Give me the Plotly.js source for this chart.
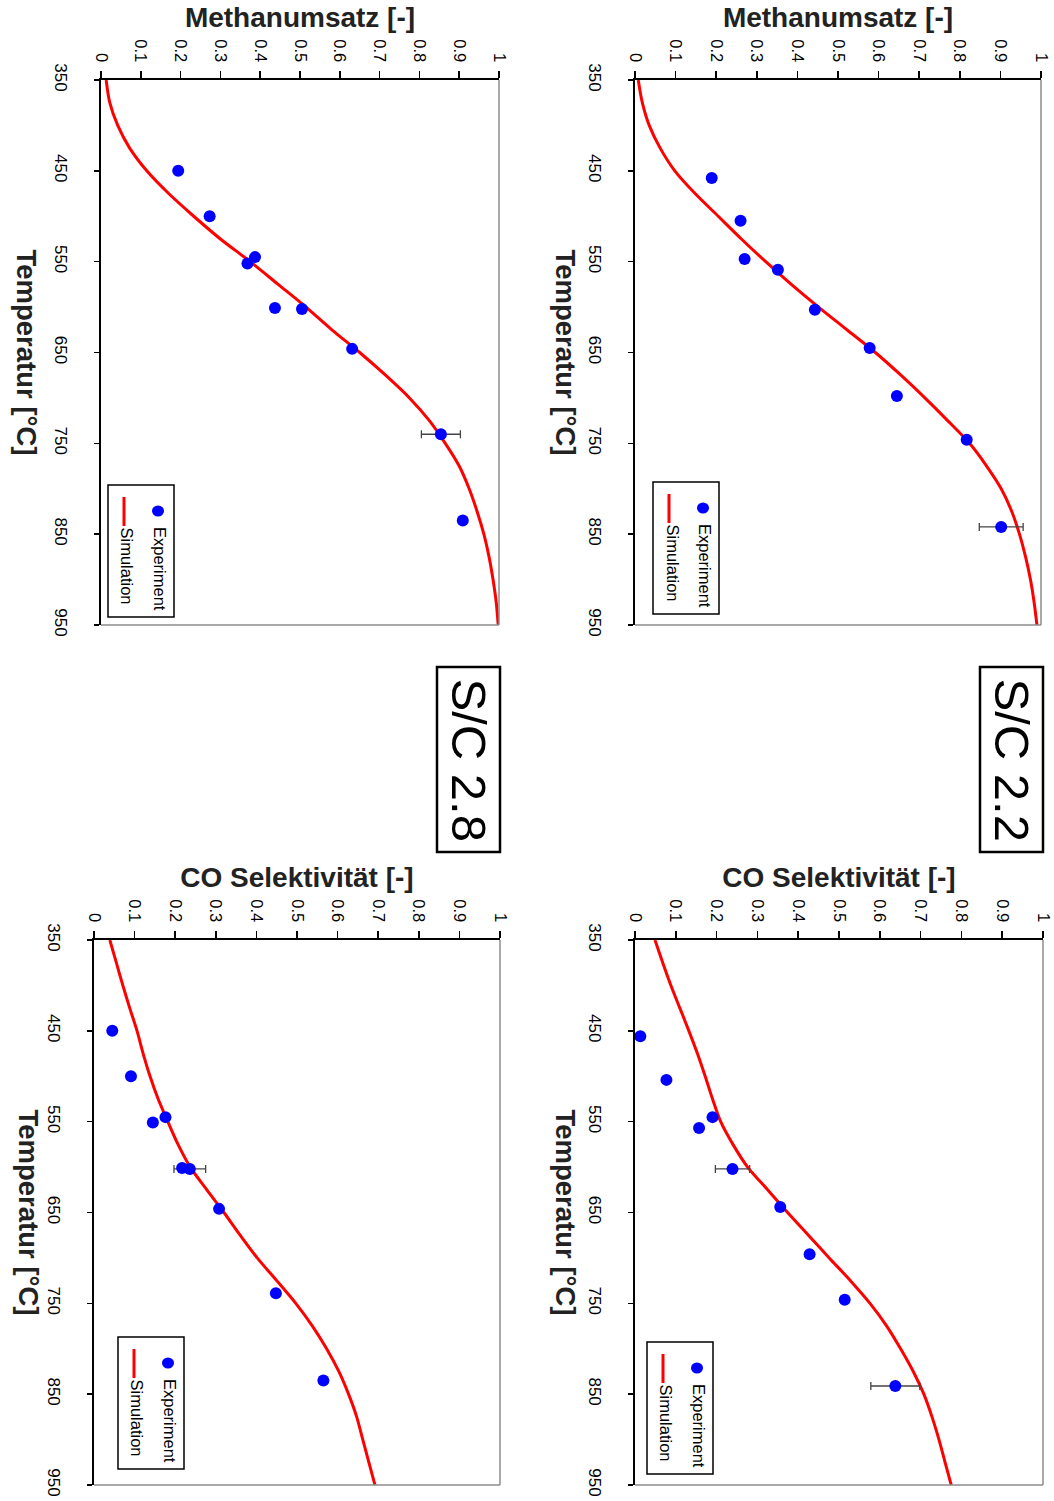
<!DOCTYPE html>
<html><head><meta charset="utf-8">
<script src="https://cdn.plot.ly/plotly-3.0.1.min.js"></script>
<style>html,body{margin:0;padding:0;background:#fff}#chart{width:1054px;height:1501px}</style>
</head><body><div id="chart"></div>
<script>
// ---------- data ----------
const simTemp = [350,375,400,425,450,475,500,525,550,575,600,625,650,675,700,725,750,775,800,825,850,875,900,925,950];
const simMethan22 = [0.008,0.018,0.035,0.062,0.098,0.148,0.205,0.262,0.322,0.385,0.452,0.522,0.592,0.655,0.714,0.77,0.824,0.866,0.902,0.928,0.947,0.962,0.974,0.983,0.99];
const simMethan28 = [0.013,0.022,0.042,0.072,0.115,0.17,0.233,0.3,0.375,0.445,0.515,0.58,0.65,0.715,0.775,0.825,0.865,0.9,0.925,0.945,0.962,0.975,0.985,0.993,0.998];
const simCO22 = [0.049,0.068,0.088,0.11,0.132,0.153,0.172,0.19,0.21,0.24,0.276,0.325,0.374,0.425,0.476,0.528,0.576,0.617,0.651,0.682,0.708,0.728,0.745,0.76,0.775];
const simCO28 = [0.039,0.055,0.071,0.088,0.106,0.121,0.138,0.158,0.182,0.207,0.237,0.278,0.32,0.36,0.402,0.45,0.497,0.538,0.573,0.603,0.627,0.647,0.662,0.677,0.692];

const expTempMethan22 = [458,505,547,559,603,645,698,746,842];
const expMethan22     = [0.189,0.260,0.270,0.352,0.443,0.578,0.645,0.817,0.902];
const errMethan22     = [0,0,0,0,0,0,0,0,0.054];

const expTempMethan28 = [450,500,545,552,601,602,646,740,835];
const expMethan28     = [0.194,0.273,0.387,0.368,0.437,0.505,0.631,0.854,0.909];
const errMethan28     = [0,0,0,0,0,0,0,0.049,0];

const expTempCO22 = [456,504,545,557,602,644,696,746,841];
const expCO22     = [0.013,0.077,0.19,0.157,0.239,0.356,0.428,0.514,0.638];
const errCO22     = [0,0,0,0,0.042,0,0,0,0.06];

const expTempCO28 = [450,500,545,551,601,602,646,739,835];
const expCO28     = [0.045,0.091,0.176,0.145,0.217,0.236,0.308,0.448,0.565];
const errCO28     = [0,0,0,0,0,0.039,0,0,0];

const valueTicks = [0,0.1,0.2,0.3,0.4,0.5,0.6,0.7,0.8,0.9,1];
const tempTicks = [350,450,550,650,750,850,950];
const titleMethan = "Methanumsatz [-]";
const titleCO = "CO Selektivität [-]";
const titleTemp = "Temperatur [°C]";
const legendNames = ["Experiment","Simulation"];
const ratioLabels = ["S/C 2.2","S/C 2.8"];

// ---------- layout helpers ----------
const W = 1054, H = 1501;
const FONT = "Arial, 'Liberation Sans', sans-serif";
const px = x => x / W;
const py = y => 1 - y / H;

// panel boxes in pixels: [left, right, top, bottom]
const panels = [
  {id:'', box:[101,499,80,625], temp:expTempMethan28, val:expMethan28, err:errMethan28, sim:simMethan28, title:titleMethan, tshift:-75, leg:[7,8]},
  {id:'2', box:[635,1041,80,625], temp:expTempMethan22, val:expMethan22, err:errMethan22, sim:simMethan22, title:titleMethan, tshift:-70, leg:[18,11]},
  {id:'3', box:[94,500,940,1485], temp:expTempCO28, val:expCO28, err:errCO28, sim:simCO28, title:titleCO, tshift:-66, leg:[24,16]},
  {id:'4', box:[635,1043,940,1485], temp:expTempCO22, val:expCO22, err:errCO22, sim:simCO22, title:titleCO, tshift:-70, leg:[12,11]}
];

const traces = [];
const layout = {
  width: W, height: H,
  margin: {l:0, r:0, t:0, b:0},
  paper_bgcolor: '#fff', plot_bgcolor: '#fff',
  showlegend: false,
  font: {family: FONT, color: '#000', size: 16},
  shapes: [], annotations: []
};

panels.forEach(p => {
  const xa = 'x' + p.id, ya = 'y' + p.id;
  const [L, R, T, B] = p.box;
  traces.push({
    type: 'scatter', mode: 'lines', x: p.sim, y: simTemp, xaxis: xa, yaxis: ya,
    line: {color: '#ff0000', width: 3, shape: 'spline', smoothing: 0.8}, name: legendNames[1], hoverinfo: 'skip'
  });
  traces.push({
    type: 'scatter', mode: 'markers', x: p.val, y: p.temp, xaxis: xa, yaxis: ya,
    marker: {color: '#0000ff', size: 12, line: {width: 0}}, name: legendNames[0],
    error_x: {type: 'data', array: p.err, visible: true, color: '#444', thickness: 1.3, width: 4}
  });
  layout['xaxis' + p.id] = {
    domain: [px(L), px(R)], anchor: ya, side: 'top', range: [0, 1],
    tickmode: 'array', tickvals: valueTicks, ticktext: valueTicks.map(String),
    tickangle: 90, ticks: 'outside', ticklen: 7, tickwidth: 1.5, tickcolor: '#000',
    ticklabelstandoff: 3,
    showline: true, linecolor: '#000', linewidth: 2, showgrid: false, zeroline: false,
    tickfont: {family: FONT, size: 16.5, color: '#000'},
    title: {text: p.title, font: {family: FONT, size: 28, color: '#222', weight: 'bold'}, standoff: 3}
  };
  layout['yaxis' + p.id] = {
    domain: [py(B), py(T)], anchor: xa, side: 'left', range: [950, 350],
    tickmode: 'array', tickvals: tempTicks, ticktext: tempTicks.map(String),
    tickangle: 90, ticks: 'outside', ticklen: 5, tickwidth: 1.5, tickcolor: '#000',
    ticklabelstandoff: 19,
    showline: true, linecolor: '#000', linewidth: 2, showgrid: false, zeroline: false,
    tickfont: {family: FONT, size: 17, color: '#000'}
  };
  // grey right & bottom frame
  layout.shapes.push({type:'line', xref: xa + ' domain', yref: ya + ' domain', x0:1, x1:1, y0:0, y1:1, line:{color:'#8c8c8c', width:1.5}});
  layout.shapes.push({type:'line', xref: xa + ' domain', yref: ya + ' domain', x0:0, x1:1, y0:0, y1:0, line:{color:'#8c8c8c', width:1.5}});
  // temperature title (rotated)
  layout.annotations.push({
    xref: xa + ' domain', yref: ya + ' domain', x: 0, y: 0.5, xshift: p.tshift,
    xanchor: 'center', yanchor: 'middle', showarrow: false, textangle: 90,
    text: '<b>' + titleTemp + '</b>', font: {family: FONT, size: 27.5, color: '#222'}
  });
  // rotated legend box
  const bl = L + p.leg[0], bb = B - p.leg[1];
  const bw = 66, bh = 132;
  const bt = bb - bh, br = bl + bw;
  layout.shapes.push({type:'rect', xref:'paper', yref:'paper', x0:px(bl), x1:px(br), y0:py(bb), y1:py(bt), line:{color:'#000', width:1.5}, fillcolor:'rgba(0,0,0,0)'});
  const dotX = bl + 50, dotY = bt + 26;
  layout.shapes.push({type:'circle', xref:'paper', yref:'paper', x0:px(dotX-6), x1:px(dotX+6), y0:py(dotY+5.5), y1:py(dotY-5.5), fillcolor:'#0000ff', line:{width:0}});
  const lnX = bl + 16;
  layout.shapes.push({type:'line', xref:'paper', yref:'paper', x0:px(lnX), x1:px(lnX), y0:py(bt+12), y1:py(bt+41), line:{color:'#ff0000', width:3}});
  layout.annotations.push({xref:'paper', yref:'paper', x:px(bl+52), y:py(bt+40), xanchor:'center', yanchor:'top', showarrow:false, textangle:90,
    text: legendNames[0], font:{family:FONT, size:16.5, color:'#000'}});
  layout.annotations.push({xref:'paper', yref:'paper', x:px(bl+19), y:py(bt+40), xanchor:'center', yanchor:'top', showarrow:false, textangle:90,
    text: legendNames[1], font:{family:FONT, size:16.5, color:'#000'}});
});

// S/C boxes
[[980,1043,ratioLabels[0]],[437,500,ratioLabels[1]]].forEach(([x0,x1,label]) => {
  layout.shapes.push({type:'rect', xref:'paper', yref:'paper', x0:px(x0), x1:px(x1), y0:py(852), y1:py(667), line:{color:'#000', width:2.5}, fillcolor:'rgba(0,0,0,0)'});
  layout.annotations.push({xref:'paper', yref:'paper', x:px((x0+x1)/2), y:py(760), xanchor:'center', yanchor:'middle', showarrow:false, textangle:90,
    text: label, font:{family:FONT, size:49, color:'#000'}});
});

Plotly.newPlot('chart', traces, layout, {displayModeBar:false, staticPlot:true});
</script>
</body></html>
